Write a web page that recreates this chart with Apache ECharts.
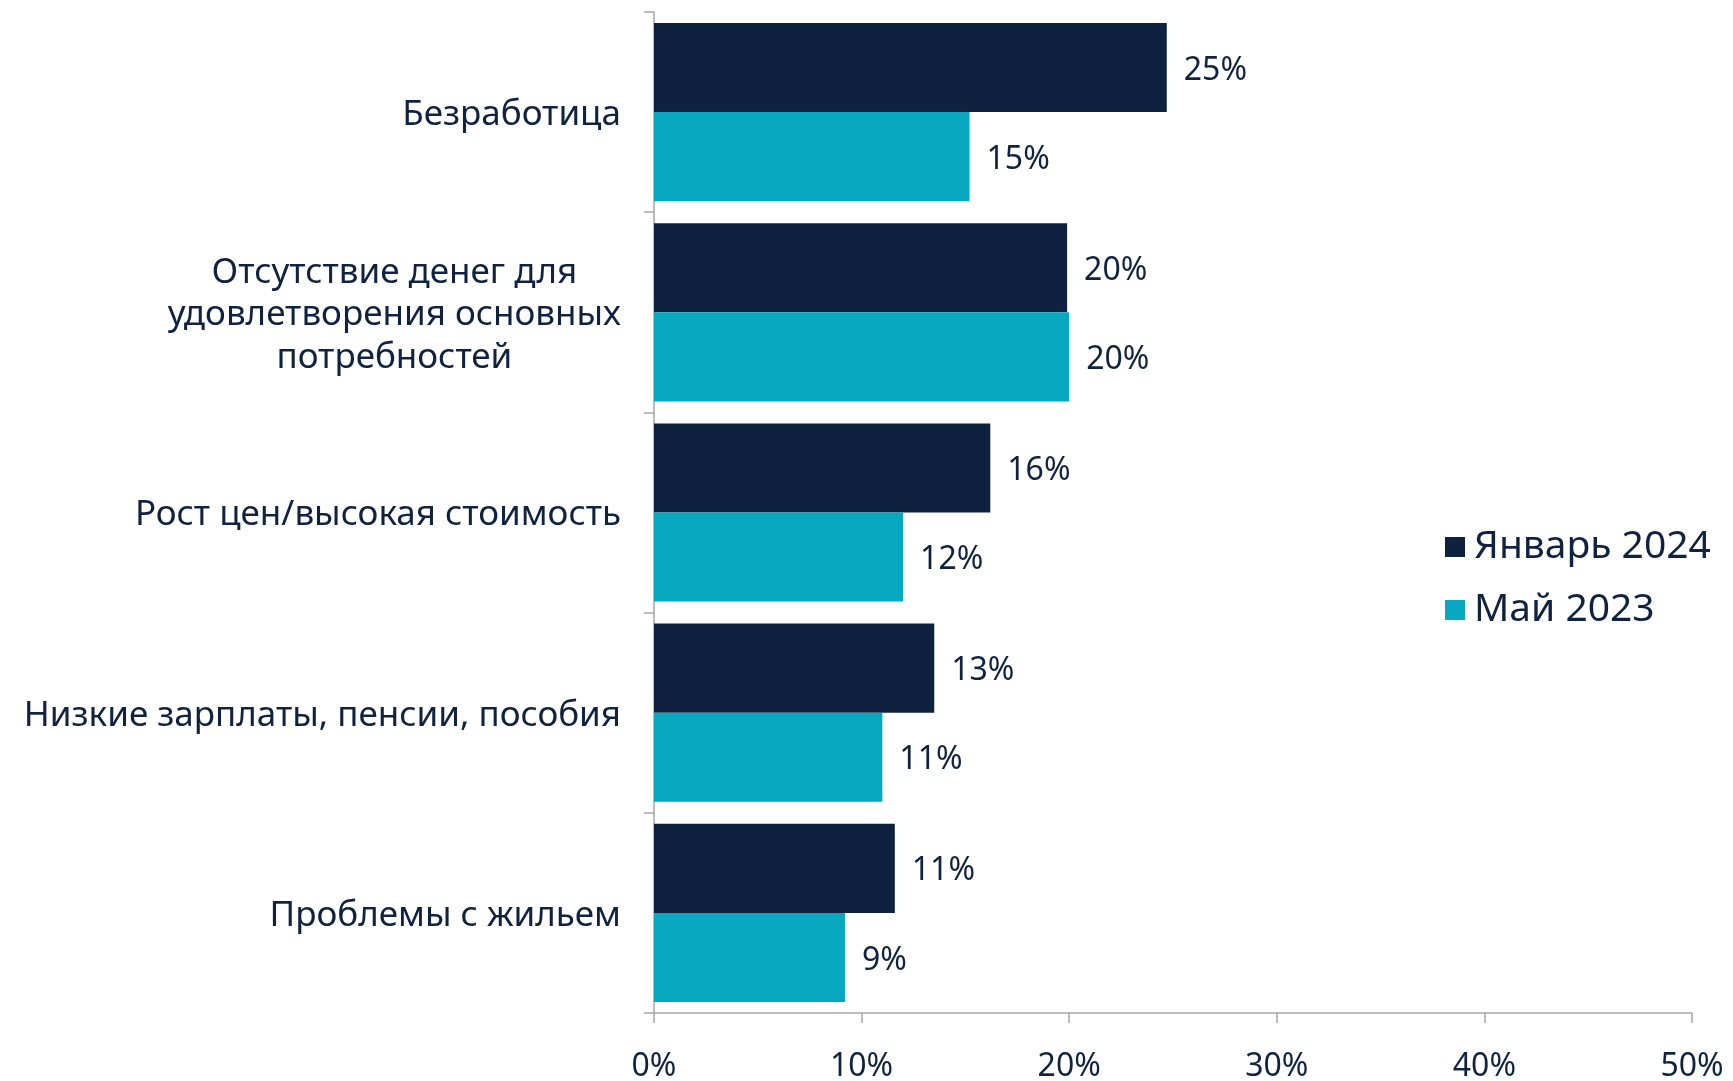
<!DOCTYPE html>
<html><head><meta charset="utf-8">
<script src="https://cdn.jsdelivr.net/npm/echarts@6/dist/echarts.min.js"></script>
<style>html,body{margin:0;padding:0;background:#fff}#c{width:1733px;height:1081px}</style>
</head><body><div id="c"></div>
<script>
const categories = ["Безработица", "Отсутствие денег для\nудовлетворения основных\nпотребностей", "Рост цен/высокая стоимость", "Низкие зарплаты, пенсии, пособия", "Проблемы с жильем"];
const seriesNames = ["Январь 2024", "Май 2023"];
const jan2024 = [24.7, 19.9, 16.2, 13.5, 11.6];
const may2023 = [15.2, 20.0, 12.0, 11.0, 9.2];
const jan2024Labels = ["25%", "20%", "16%", "13%", "11%"];
const may2023Labels = ["15%", "20%", "12%", "11%", "9%"];
const xTicks = [0, 10, 20, 30, 40, 50];

const FONT = "'Noto Sans', sans-serif";
const TXT = "#0f2340";
const chart = echarts.init(document.getElementById('c'));
chart.setOption({
  animation: false,
  textStyle: {fontFamily: FONT},
  grid: {left: 654, right: 41, top: 12, bottom: 68, containLabel: false, outerBoundsMode: 'none'},
  legend: {
    orient: 'vertical', left: 1440, top: 518,
    icon: 'rect', itemWidth: 20, itemHeight: 20, itemGap: 15,
    textStyle: {fontFamily: FONT, fontSize: 39, color: TXT, lineHeight: 44, padding: [4,0,0,4]},
    data: seriesNames
  },
  xAxis: {
    type: 'value', min: xTicks[0], max: xTicks[xTicks.length-1], interval: 10,
    axisLine: {show: true, lineStyle: {color: '#a6a6a6', width: 1.5}},
    axisTick: {show: true, length: 10, lineStyle: {color: '#a6a6a6', width: 1.5}},
    splitLine: {show: false},
    axisLabel: {margin: 38, fontSize: 32, color: TXT, fontFamily: FONT, formatter: v => v + '%'}
  },
  yAxis: {
    type: 'category', inverse: true, data: categories,
    axisLine: {show: true, lineStyle: {color: '#a6a6a6', width: 1.5}},
    axisTick: {show: true, length: 10, lineStyle: {color: '#a6a6a6', width: 1.5}},
    axisLabel: {
      margin: 33, fontSize: 35, color: TXT, fontFamily: FONT, lineHeight: 42.5,
      padding: [6,0,0,0],
      formatter: v => v.split('\n').map(s => '{c|' + s + '}').join('\n'),
      rich: {c: {align: 'center', fontSize: 35, color: TXT, fontFamily: FONT, lineHeight: 42.5}}
    }
  },
  series: [
    {name: seriesNames[0], type: 'bar', data: jan2024, barGap: '0%', barCategoryGap: '11%',
     itemStyle: {color: '#0e2240'},
     label: {show: true, position: 'right', distance: 17, offset: [0, 3], fontSize: 32, color: TXT, fontFamily: FONT,
       formatter: p => jan2024Labels[p.dataIndex]}},
    {name: seriesNames[1], type: 'bar', data: may2023, barGap: '0%', barCategoryGap: '11%',
     itemStyle: {color: '#07a8c0'},
     label: {show: true, position: 'right', distance: 17, offset: [0, 3], fontSize: 32, color: TXT, fontFamily: FONT,
       formatter: p => may2023Labels[p.dataIndex]}}
  ]
});
</script></body></html>
